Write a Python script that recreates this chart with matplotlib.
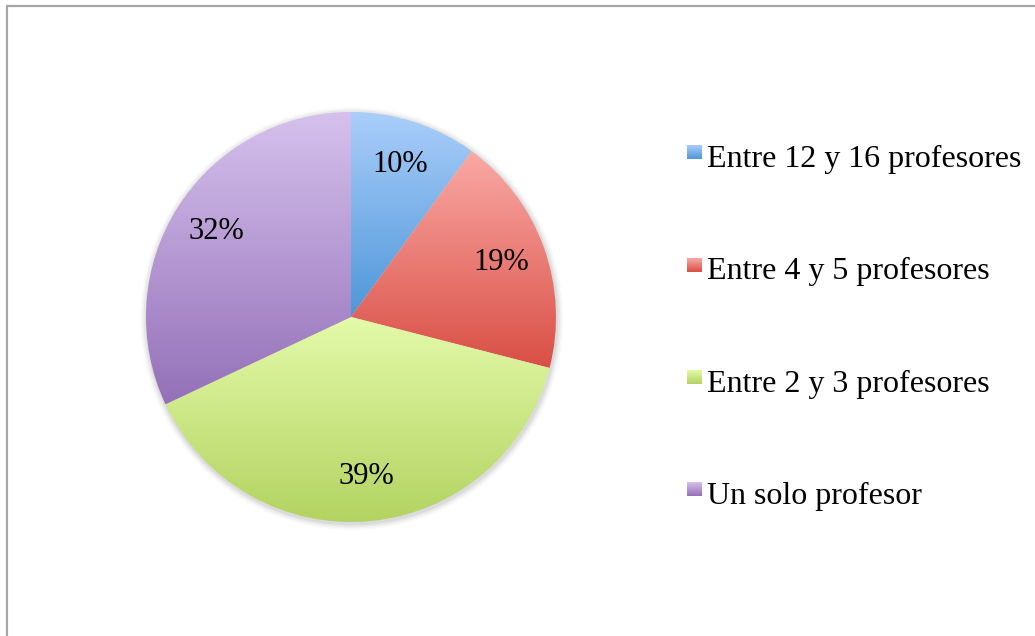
import numpy as np
import matplotlib
import matplotlib.pyplot as plt
from matplotlib.colors import LinearSegmentedColormap

matplotlib.use('Agg')

labels = ['Entre 12 y 16 profesores', 'Entre 4 y 5 profesores',
          'Entre 2 y 3 profesores', 'Un solo profesor']
values = [10, 19, 39, 32]
# colores (arriba claro -> abajo oscuro)
top_colors = ['#aacefa', '#faa9a5', '#e3faa9', '#d5c1ed']
bottom_colors = ['#4e96d9', '#d94f45', '#b3d361', '#9470b8']

plt.rcParams['font.family'] = ['Liberation Serif', 'DejaVu Serif']

W, H = 1035, 636
fig = plt.figure(figsize=(W / 100, H / 100), dpi=100)

# pie: centro (351, 317) px, radio 205 px
cx, cy, r = 351, 317, 205
ax = fig.add_axes([(cx - r * 1.05) / W, (H - cy - r * 1.05) / H,
                   2.1 * r / W, 2.1 * r / H])
ax.axis('off')

# sombra suave
for k, a in enumerate([0.05, 0.04, 0.03, 0.02]):
    ax.add_patch(plt.Circle((0.004, -0.008), 1 + 0.008 * (k + 1),
                            color='black', alpha=a, lw=0, zorder=0))

wedges, texts, autotexts = ax.pie(
    values, startangle=90, counterclock=False, radius=1,
    autopct='%1.0f%%', pctdistance=0.78,
    textprops=dict(fontsize=22, color='black'),
    wedgeprops=dict(linewidth=0))

grad = np.linspace(0, 1, 256).reshape(-1, 1)
for w, c0, c1 in zip(wedges, top_colors, bottom_colors):
    ext = w.get_path().get_extents()
    cmap = LinearSegmentedColormap.from_list('g', [c0, c1])
    w.set_facecolor('none')
    im = ax.imshow(grad, cmap=cmap, aspect='auto', origin='upper',
                   extent=(ext.x0, ext.x1, ext.y0, ext.y1), zorder=1,
                   interpolation='bilinear')
    im.set_clip_path(w)
for t in autotexts:
    t.set_zorder(5)
ax.set_xlim(-1.05, 1.05)
ax.set_ylim(-1.05, 1.05)
ax.set_aspect('equal')

# capa de figura en pixeles para borde y leyenda
ov = fig.add_axes([0, 0, 1, 1], zorder=-1)
ov.set_xlim(0, W)
ov.set_ylim(H, 0)
ov.axis('off')
ov.plot([7, 7], [H, 6], color='#a6a6a6', lw=1.6, solid_capstyle='butt')
ov.plot([6, W], [6, 6], color='#a6a6a6', lw=1.6, solid_capstyle='butt')

leg = fig.add_axes([0, 0, 1, 1], zorder=3)
leg.axis('off')
for i, (lab, c0, c1) in enumerate(zip(labels, top_colors, bottom_colors)):
    y = 159.5 + i * 112.3
    cmap = LinearSegmentedColormap.from_list('g', [c0, c1])
    leg.imshow(grad, cmap=cmap, aspect='auto', origin='upper',
               extent=(687, 702, y, y - 14))
    leg.text(707, y, lab, fontsize=23, va='center', ha='left')
leg.set_xlim(0, W)
leg.set_ylim(H, 0)

fig.savefig('out.png', dpi=100)
